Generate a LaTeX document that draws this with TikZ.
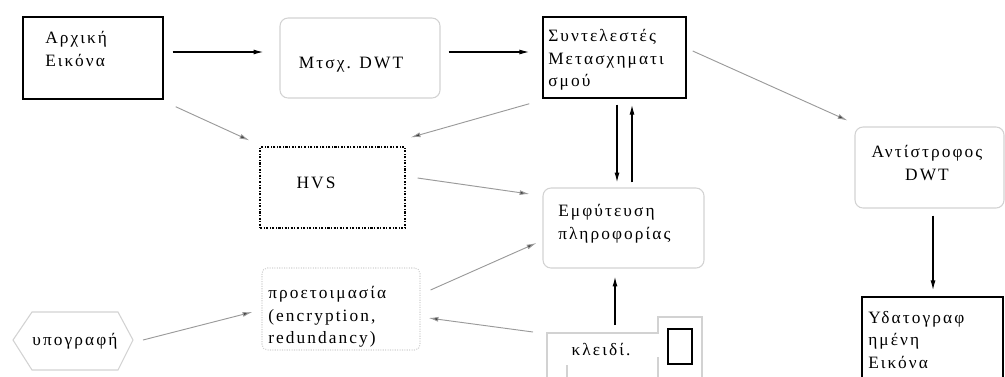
\documentclass[tikz,border=0pt]{standalone}
\usepackage{fontspec}
\setmainfont{Liberation Serif}[LetterSpace=12]
\usepackage{xcolor}
\definecolor{boxGray}{HTML}{D2D2D2}
\definecolor{arrGray}{HTML}{9A9A9A}
\usetikzlibrary{calc, fit}
\usetikzlibrary{arrows.meta}
\tikzset{
    txt/.style={inner sep=0pt, align=left, font=\fontsize{13}{17}\selectfont},
    hardbox/.style={draw=black, line width=1.1pt, inner sep=0pt},
    softbox/.style={draw=boxGray, line width=0.8pt, rounded corners=6pt, inner sep=0pt},
    dotbox/.style={draw=black, line width=0.9pt, dash pattern=on 1.6pt off 1.2pt on 0.6pt off 1.2pt, inner sep=0pt},
    faintbox/.style={draw=boxGray, line width=0.8pt, densely dotted, rounded corners=4pt, inner sep=0pt},
    darr/.style={draw=black, line width=0.9pt, -{Latex[length=2.6mm,width=1.3mm]}},
    garr/.style={draw=arrGray, line width=0.7pt, -{Latex[length=2.6mm,width=1.3mm,fill=black!75]}}
}

\begin{document}
\begin{tikzpicture}[x=0.75pt, y=-0.75pt]
  % frame (pixel grid of the reference)
  \useasboundingbox (0,0) rectangle (1005,376);
  \clip (0,0) rectangle (1005,376);

  % boxes
  \node[hardbox, fit={(23,17) (163,99)}]   (orig) {};
  \node[softbox, fit={(280,18) (440,98)}]  (dwt)  {};
  \node[hardbox, fit={(543,17) (686,98)}]  (coef) {};
  \node[dotbox,  fit={(260,147) (405,228)}] (hvs)  {};
  \node[softbox, fit={(543,188) (704,268)}] (emb)  {};
  \node[softbox, fit={(855,127) (1004,208)}] (inv) {};
  \node[hardbox, fit={(862,297) (1003,390)}] (wm)  {};
  \node[faintbox, fit={(262,268) (420,350)}] (prep) {};

  % signature hexagon
  \draw[boxGray, line width=0.8pt] (13,340) -- (32,312) -- (118,312) -- (133,340) coordinate (sigR)
    -- (118,370) -- (32,370) -- cycle;

  % key card
  \draw[boxGray, line width=0.8pt] (547,380) -- (547,333) -- (658,333) -- (658,317) -- (702,317) -- (702,380);
  \draw[boxGray, line width=0.8pt] (567,365) -- (567,380);
  \draw[boxGray, line width=0.8pt] (658,357) -- (658,380);
  \draw[black, line width=1pt] (668,329) rectangle (692,364);

  % texts
  \node[txt, anchor=west] (origT) at (45,49)  {Αρχική\\Εικόνα};
  \node[txt]              (dwtT)  at (351,65) {Μτσχ. DWT};
  \node[txt, anchor=west] (coefT) at (548,60) {Συντελεστές\\Μετασχηματι\\σμού};
  \node[txt]              (hvsT)  at (316,183) {HVS};
  \node[txt, anchor=west] (embT)  at (558,224) {Εμφύτευση\\πληροφορίας};
  \node[txt, align=center] (invT) at (927,163) {Αντίστροφος\\DWT};
  \node[txt, anchor=west] (wmT)   at (868,340) {Υδατογραφ\\ημένη\\Εικόνα};
  \node[txt, anchor=west] (prepT) at (268,317) {προετοιμασία\\(encryption,\\redundancy)};
  \node[txt]              (sigT)  at (75,341) {υπογραφή};
  \node[txt]              (keyT)  at (601,350) {κλειδί.};

  % connectors
  \draw[darr] ($(orig.east)+(9,-6)$) -- ($(dwt.west)+(-16,-6)$);
  \draw[darr] ($(dwt.east)+(8,-6)$) -- ($(coef.west)+(-13,-5.5)$);
  \draw[garr] ($(coef.east)+(6,-6.5)$) -- ($(inv.north west)+(-7,-6)$);
  \draw[garr] ($(orig.south east)+(12,7)$) -- ($(hvs.north west)+(-10,-6)$);
  \draw[garr] ($(coef.south west)+(-13,5)$) -- ($(hvs.north east)+(5,-9)$);
  \draw[darr] ($(coef.south)+(2.5,6)$) -- ($(emb.north)+(-6.5,-5)$);
  \draw[darr] ($(emb.north)+(8.5,-5)$) -- ($(coef.south)+(17.5,6)$);
  \draw[garr] ($(hvs.east)+(12,-9.5)$) -- ($(emb.west)+(-13,-34)$);
  \draw[garr] ($(prep.east)+(10,-19)$) -- ($(emb.west)+(-6,15)$);
  \draw[garr] ($(keyT.center)+(-68,-18)$) -- ($(prep.east)+(8,9)$);
  \draw[darr] ($(keyT.center)+(14,-25)$) -- ($(emb.south)+(-8.5,8)$);
  \draw[garr] ($(sigR)+(10,0)$) -- ($(prep.west)+(-9,3)$);
  \draw[darr] ($(inv.south)+(3.5,7)$) -- ($(wm.north)+(0.5,-6)$);
\end{tikzpicture}
\end{document}
